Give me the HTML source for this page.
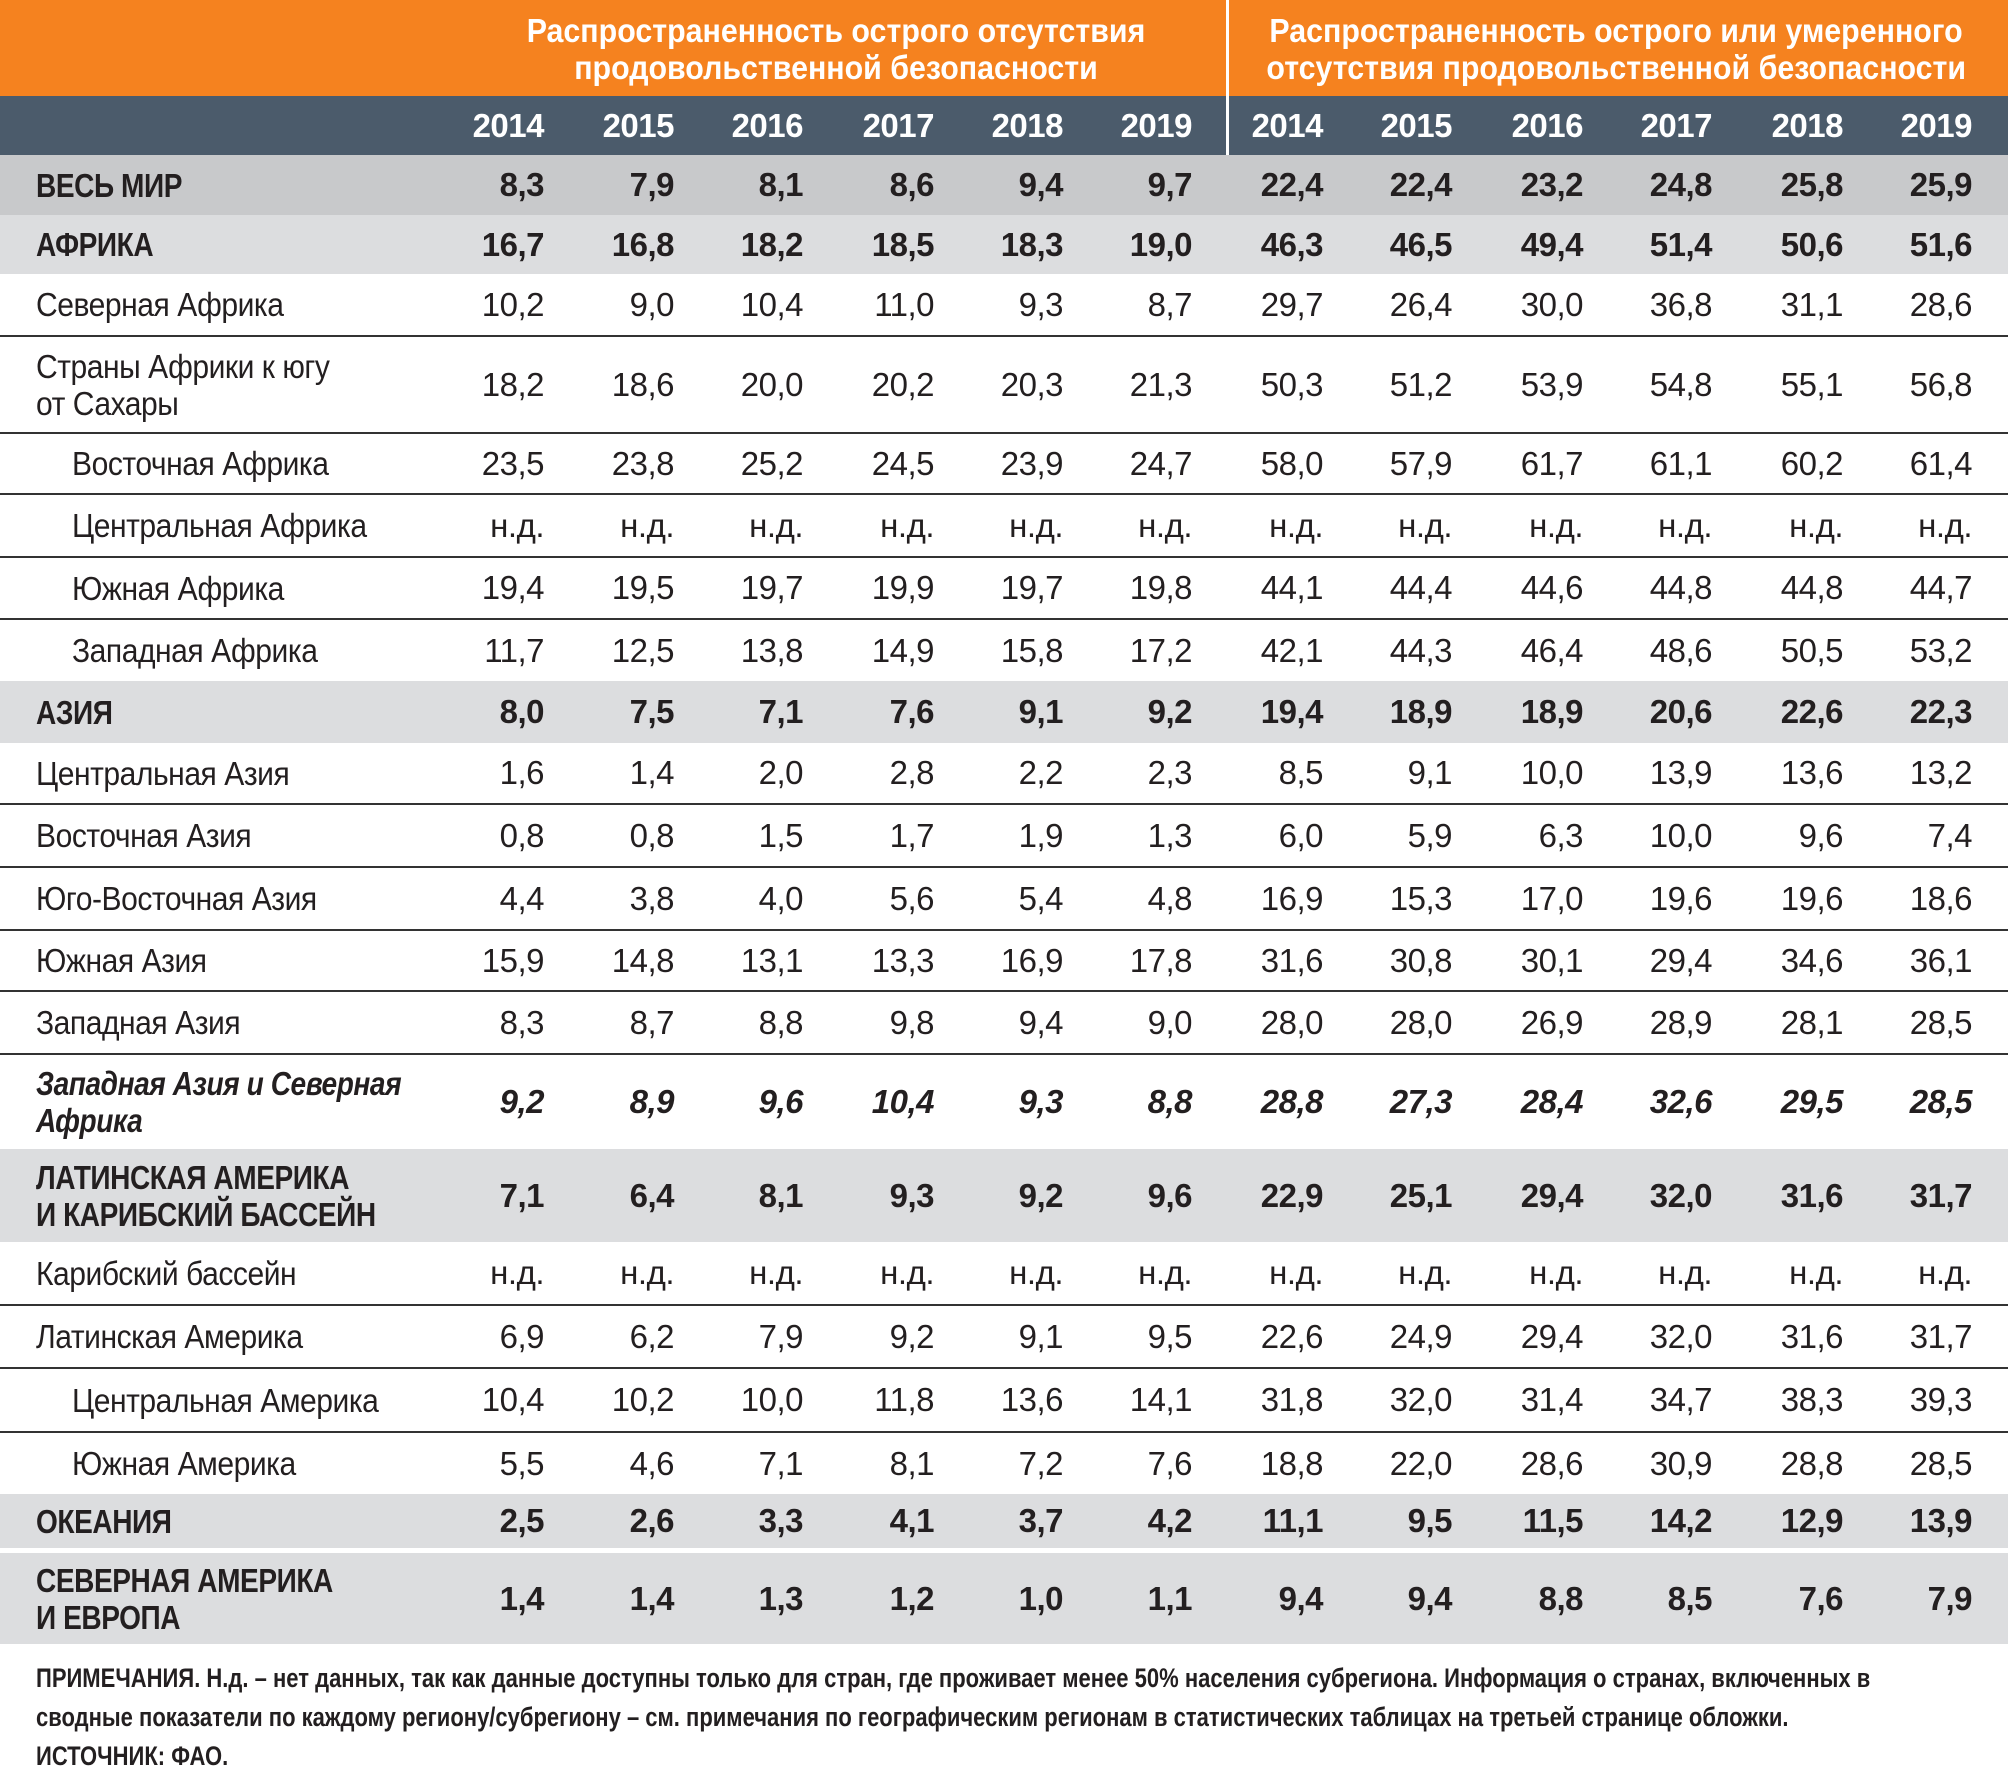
<!DOCTYPE html>
<html><head><meta charset="utf-8"><style>
body{margin:0;width:2008px;height:1771px;background:#fff;position:relative;overflow:hidden;font-family:"Liberation Sans Narrow","Liberation Sans",sans-serif;color:#231f20}
.hdr{position:absolute;left:0;top:0;width:2008px;height:96px;background:#f5821f}
.band{position:absolute;left:0;top:96px;width:2008px;height:59px;background:#4b5b6b}
.vsep{position:absolute;left:1226px;top:0;width:3px;height:155px;background:#fff}
.ht{position:absolute;color:#fff;font-weight:bold;font-size:33px;text-align:center;line-height:37px;white-space:nowrap;transform:scaleX(0.92);transform-origin:center}
table{position:absolute;left:0;top:96px;border-collapse:collapse;table-layout:fixed;width:2008px;font-size:33px}
td{padding:0;text-align:right;white-space:nowrap;vertical-align:middle;letter-spacing:-0.5px}
td:first-child{text-align:left;padding-left:36px;line-height:37px}
td:first-child span{display:inline-block;transform:scaleX(0.91);transform-origin:left center}
tr.w td:first-child span,tr.g td:first-child span,tr.it td:first-child span{transform:scaleX(0.85)}
tr.y td{color:#fff;font-weight:bold;height:59px}
tr.w td{background:#c8c9cb;font-weight:bold}
tr.g td{background:#dcdddf;font-weight:bold}
tr.l td{border-bottom:2px solid #333}
tr.i td:first-child{padding-left:72px}
tr.it td{font-weight:bold;font-style:italic}
tr.gap td{height:5px;background:#fff}
.note{position:absolute;left:36px;font-weight:bold;font-size:27px;white-space:nowrap;line-height:39px;top:1659px;transform:scaleX(0.815);transform-origin:left top}
</style></head><body>
<div class="hdr"></div><div class="band"></div>
<div class="ht" style="left:440px;width:792px;top:12px">Распространенность острого отсутствия<br>продовольственной безопасности</div>
<div class="ht" style="left:1236px;width:760px;top:12px">Распространенность острого или умеренного<br>отсутствия продовольственной безопасности</div>
<table>
<colgroup><col style="width:400px"><col style="width:144px"><col style="width:130px"><col style="width:129px"><col style="width:131px"><col style="width:129px"><col style="width:129px"><col style="width:131px"><col style="width:129px"><col style="width:131px"><col style="width:129px"><col style="width:131px"><col style="width:129px"><col style="width:36px"></colgroup>
<tr class="y"><td></td><td>2014</td><td>2015</td><td>2016</td><td>2017</td><td>2018</td><td>2019</td><td>2014</td><td>2015</td><td>2016</td><td>2017</td><td>2018</td><td>2019</td><td></td></tr>
<tr class="w" style="height:60px"><td><span>ВЕСЬ МИР</span></td><td>8,3</td><td>7,9</td><td>8,1</td><td>8,6</td><td>9,4</td><td>9,7</td><td>22,4</td><td>22,4</td><td>23,2</td><td>24,8</td><td>25,8</td><td>25,9</td><td></td></tr>
<tr class="g" style="height:59px"><td><span>АФРИКА</span></td><td>16,7</td><td>16,8</td><td>18,2</td><td>18,5</td><td>18,3</td><td>19,0</td><td>46,3</td><td>46,5</td><td>49,4</td><td>51,4</td><td>50,6</td><td>51,6</td><td></td></tr>
<tr class="l" style="height:62px"><td><span>Северная Африка</span></td><td>10,2</td><td>9,0</td><td>10,4</td><td>11,0</td><td>9,3</td><td>8,7</td><td>29,7</td><td>26,4</td><td>30,0</td><td>36,8</td><td>31,1</td><td>28,6</td><td></td></tr>
<tr class="l" style="height:97px"><td><span>Страны Африки к югу<br>от Сахары</span></td><td>18,2</td><td>18,6</td><td>20,0</td><td>20,2</td><td>20,3</td><td>21,3</td><td>50,3</td><td>51,2</td><td>53,9</td><td>54,8</td><td>55,1</td><td>56,8</td><td></td></tr>
<tr class="l i" style="height:61px"><td><span>Восточная Африка</span></td><td>23,5</td><td>23,8</td><td>25,2</td><td>24,5</td><td>23,9</td><td>24,7</td><td>58,0</td><td>57,9</td><td>61,7</td><td>61,1</td><td>60,2</td><td>61,4</td><td></td></tr>
<tr class="l i" style="height:63px"><td><span>Центральная Африка</span></td><td>н.д.</td><td>н.д.</td><td>н.д.</td><td>н.д.</td><td>н.д.</td><td>н.д.</td><td>н.д.</td><td>н.д.</td><td>н.д.</td><td>н.д.</td><td>н.д.</td><td>н.д.</td><td></td></tr>
<tr class="l i" style="height:62px"><td><span>Южная Африка</span></td><td>19,4</td><td>19,5</td><td>19,7</td><td>19,9</td><td>19,7</td><td>19,8</td><td>44,1</td><td>44,4</td><td>44,6</td><td>44,8</td><td>44,8</td><td>44,7</td><td></td></tr>
<tr class="i" style="height:62px"><td><span>Западная Африка</span></td><td>11,7</td><td>12,5</td><td>13,8</td><td>14,9</td><td>15,8</td><td>17,2</td><td>42,1</td><td>44,3</td><td>46,4</td><td>48,6</td><td>50,5</td><td>53,2</td><td></td></tr>
<tr class="g" style="height:62px"><td><span>АЗИЯ</span></td><td>8,0</td><td>7,5</td><td>7,1</td><td>7,6</td><td>9,1</td><td>9,2</td><td>19,4</td><td>18,9</td><td>18,9</td><td>20,6</td><td>22,6</td><td>22,3</td><td></td></tr>
<tr class="l" style="height:61px"><td><span>Центральная Азия</span></td><td>1,6</td><td>1,4</td><td>2,0</td><td>2,8</td><td>2,2</td><td>2,3</td><td>8,5</td><td>9,1</td><td>10,0</td><td>13,9</td><td>13,6</td><td>13,2</td><td></td></tr>
<tr class="l" style="height:63px"><td><span>Восточная Азия</span></td><td>0,8</td><td>0,8</td><td>1,5</td><td>1,7</td><td>1,9</td><td>1,3</td><td>6,0</td><td>5,9</td><td>6,3</td><td>10,0</td><td>9,6</td><td>7,4</td><td></td></tr>
<tr class="l" style="height:63px"><td><span>Юго-Восточная Азия</span></td><td>4,4</td><td>3,8</td><td>4,0</td><td>5,6</td><td>5,4</td><td>4,8</td><td>16,9</td><td>15,3</td><td>17,0</td><td>19,6</td><td>19,6</td><td>18,6</td><td></td></tr>
<tr class="l" style="height:61px"><td><span>Южная Азия</span></td><td>15,9</td><td>14,8</td><td>13,1</td><td>13,3</td><td>16,9</td><td>17,8</td><td>31,6</td><td>30,8</td><td>30,1</td><td>29,4</td><td>34,6</td><td>36,1</td><td></td></tr>
<tr class="l" style="height:63px"><td><span>Западная Азия</span></td><td>8,3</td><td>8,7</td><td>8,8</td><td>9,8</td><td>9,4</td><td>9,0</td><td>28,0</td><td>28,0</td><td>26,9</td><td>28,9</td><td>28,1</td><td>28,5</td><td></td></tr>
<tr class="it" style="height:95px"><td><span>Западная Азия и Северная<br>Африка</span></td><td>9,2</td><td>8,9</td><td>9,6</td><td>10,4</td><td>9,3</td><td>8,8</td><td>28,8</td><td>27,3</td><td>28,4</td><td>32,6</td><td>29,5</td><td>28,5</td><td></td></tr>
<tr class="g" style="height:93px"><td><span>ЛАТИНСКАЯ АМЕРИКА<br>И КАРИБСКИЙ БАССЕЙН</span></td><td>7,1</td><td>6,4</td><td>8,1</td><td>9,3</td><td>9,2</td><td>9,6</td><td>22,9</td><td>25,1</td><td>29,4</td><td>32,0</td><td>31,6</td><td>31,7</td><td></td></tr>
<tr class="l" style="height:63px"><td><span>Карибский бассейн</span></td><td>н.д.</td><td>н.д.</td><td>н.д.</td><td>н.д.</td><td>н.д.</td><td>н.д.</td><td>н.д.</td><td>н.д.</td><td>н.д.</td><td>н.д.</td><td>н.д.</td><td>н.д.</td><td></td></tr>
<tr class="l" style="height:63px"><td><span>Латинская Америка</span></td><td>6,9</td><td>6,2</td><td>7,9</td><td>9,2</td><td>9,1</td><td>9,5</td><td>22,6</td><td>24,9</td><td>29,4</td><td>32,0</td><td>31,6</td><td>31,7</td><td></td></tr>
<tr class="l i" style="height:64px"><td><span>Центральная Америка</span></td><td>10,4</td><td>10,2</td><td>10,0</td><td>11,8</td><td>13,6</td><td>14,1</td><td>31,8</td><td>32,0</td><td>31,4</td><td>34,7</td><td>38,3</td><td>39,3</td><td></td></tr>
<tr class="i" style="height:62px"><td><span>Южная Америка</span></td><td>5,5</td><td>4,6</td><td>7,1</td><td>8,1</td><td>7,2</td><td>7,6</td><td>18,8</td><td>22,0</td><td>28,6</td><td>30,9</td><td>28,8</td><td>28,5</td><td></td></tr>
<tr class="g" style="height:54px"><td><span>ОКЕАНИЯ</span></td><td>2,5</td><td>2,6</td><td>3,3</td><td>4,1</td><td>3,7</td><td>4,2</td><td>11,1</td><td>9,5</td><td>11,5</td><td>14,2</td><td>12,9</td><td>13,9</td><td></td></tr>
<tr class="gap"><td colspan="14"></td></tr>
<tr class="g" style="height:91px"><td><span>СЕВЕРНАЯ АМЕРИКА<br>И ЕВРОПА</span></td><td>1,4</td><td>1,4</td><td>1,3</td><td>1,2</td><td>1,0</td><td>1,1</td><td>9,4</td><td>9,4</td><td>8,8</td><td>8,5</td><td>7,6</td><td>7,9</td><td></td></tr>
</table>
<div class="vsep"></div>
<div class="note">ПРИМЕЧАНИЯ. Н.д. – нет данных, так как данные доступны только для стран, где проживает менее 50% населения субрегиона. Информация о странах, включенных в<br>сводные показатели по каждому региону/субрегиону – см. примечания по географическим регионам в статистических таблицах на третьей странице обложки.<br>ИСТОЧНИК: ФАО.</div>
</body></html>
